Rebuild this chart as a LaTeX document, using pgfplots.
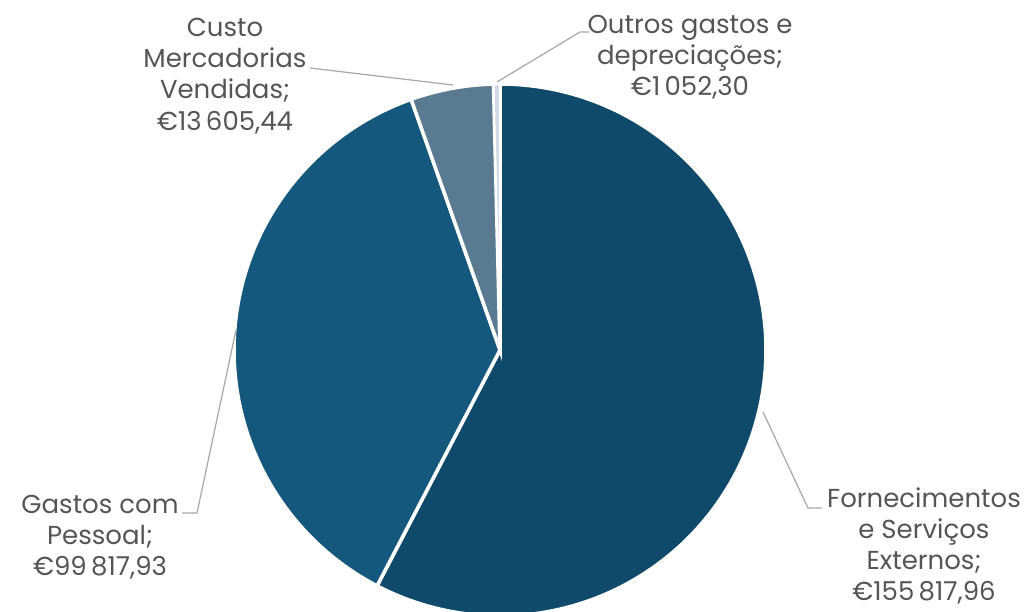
\documentclass[border=0pt]{standalone}
\usepackage{pgfplots}
\pgfplotsset{compat=1.18}
\usepackage{pgfplotstable}
\usepackage{fontspec}
\setmainfont{Poppins}

\definecolor{fse}{HTML}{0F4A6B}
\definecolor{pes}{HTML}{14587E}
\definecolor{cmv}{HTML}{5A7A92}
\definecolor{outr}{HTML}{CFDAE2}
\definecolor{lbl}{HTML}{555555}
\definecolor{lead}{HTML}{A8A8A8}

% custos (EUR), no sentido dos ponteiros a partir do topo
\pgfplotstableread{
slice value
1 155817.96
2 99817.93
3 13605.44
4 1052.30
}\costdata
\pgfplotstablegetelem{0}{value}\of\costdata\let\vA\pgfplotsretval
\pgfplotstablegetelem{1}{value}\of\costdata\let\vB\pgfplotsretval
\pgfplotstablegetelem{2}{value}\of\costdata\let\vC\pgfplotsretval
\pgfplotstablegetelem{3}{value}\of\costdata\let\vD\pgfplotsretval
\edef\tot{\fpeval{\vA+\vB+\vC+\vD}}
\edef\aA{90}
\edef\aB{\fpeval{\aA-360*\vA/\tot}}
\edef\aC{\fpeval{\aB-360*\vB/\tot}}
\edef\aD{\fpeval{\aC-360*\vC/\tot}}
\edef\aE{\fpeval{\aD-360*\vD/\tot}}

\begin{document}
\begin{tikzpicture}
\begin{axis}[
width=10.31cm,height=6.11cm,
scale only axis,
xmin=0,xmax=1031,ymin=0,ymax=611,
hide axis,
clip=true,
]
\addplot[fill=fse,draw=white,line width=1pt,domain=\aB:\aA,samples=160]
 ({500+266*cos(x)},{261+266*sin(x)}) -- (axis cs:500,261) -- cycle;
\addplot[fill=pes,draw=white,line width=1pt,domain=\aC:\aB,samples=120]
 ({500+266*cos(x)},{261+266*sin(x)}) -- (axis cs:500,261) -- cycle;
\addplot[fill=cmv,draw=white,line width=1pt,domain=\aD:\aC,samples=30]
 ({500+266*cos(x)},{261+266*sin(x)}) -- (axis cs:500,261) -- cycle;
\addplot[fill=outr,draw=white,line width=0.6pt,domain=\aE:\aD,samples=10]
 ({500+266*cos(x)},{261+266*sin(x)}) -- (axis cs:500,261) -- cycle;

% linhas de chamada
\addplot[lead,line width=0.35pt] coordinates {(310,543) (453,526)};
\addplot[lead,line width=0.35pt] coordinates {(589,579) (580,579) (497,529)};
\addplot[lead,line width=0.35pt] coordinates {(182,98) (197,98) (236,281)};
\addplot[lead,line width=0.35pt] coordinates {(763,199) (808,103) (822,103)};

\begin{scope}[every node/.style={align=center,text=lbl,font=\fontsize{7.4}{8.9}\selectfont}]
\node at (axis cs:225,535) {Custo\\Mercadorias\\Vendidas;\\€13\,605,44};
\node at (axis cs:690,554) {Outros gastos e\\depreciações;\\€1\,052,30};
\node at (axis cs:100,74) {Gastos com\\Pessoal;\\€99\,817,93};
\node at (axis cs:924,65) {Fornecimentos\\e Serviços\\Externos;\\€155\,817,96};
\end{scope}
\end{axis}
\pgfresetboundingbox
\useasboundingbox (current axis.south west) rectangle (current axis.north east);
\end{tikzpicture}
\end{document}
